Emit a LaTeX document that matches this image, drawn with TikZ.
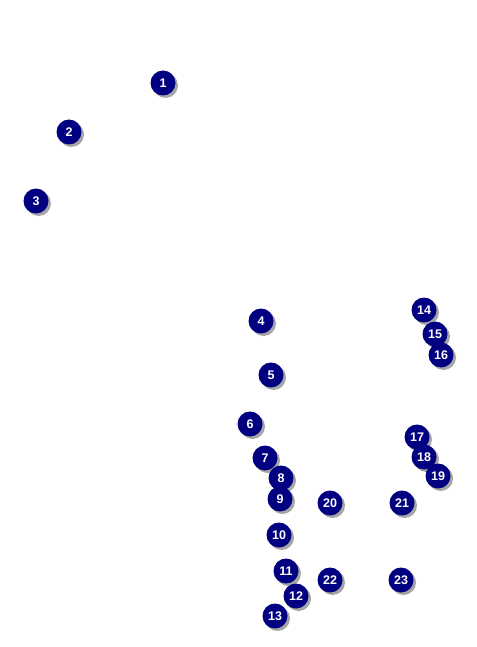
\documentclass[tikz,border=0pt]{standalone}
\usepackage{fontspec}
\setmainfont{Liberation Sans}
\begin{document}
\begin{tikzpicture}[x=1pt,y=-1pt,
  ball/.style={circle,minimum size=25pt,inner sep=0pt,fill={rgb,255:red,0;green,0;blue,128},text=white,font=\fontsize{12.5}{13}\selectfont\bfseries},
  shade/.style={circle,minimum size=25pt,inner sep=0pt,fill=black!35}]
\useasboundingbox (0,0) rectangle (476,647);
\foreach \n/\x/\y in {1/163/83,2/69/132,3/36/201,4/261/321,5/271/375,6/250/424,7/265/458,8/281/478,9/280/499,10/279/535,11/286/571,12/296/596,13/275/616,14/424/310,15/435/334,16/441/355,17/417/437,18/424/457,19/438/476,20/330/503,21/402/503,22/330/580,23/401/580}{
  \node[shade] (s\n) at (\x+2.5,\y+2.5) {};
}
\foreach \n/\x/\y in {1/163/83,2/69/132,3/36/201,4/261/321,5/271/375,6/250/424,7/265/458,8/281/478,9/280/499,10/279/535,11/286/571,12/296/596,13/275/616,14/424/310,15/435/334,16/441/355,17/417/437,18/424/457,19/438/476,20/330/503,21/402/503,22/330/580,23/401/580}{
  \node[ball] (n\n) at (\x,\y) {\n};
}
\end{tikzpicture}
\end{document}
